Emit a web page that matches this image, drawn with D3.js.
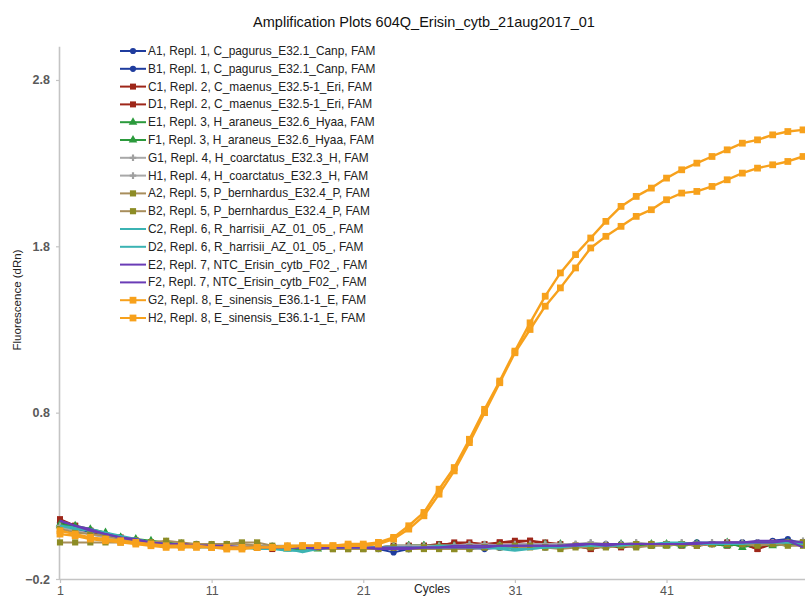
<!DOCTYPE html>
<html>
<head>
<meta charset="utf-8">
<script src="https://cdn.jsdelivr.net/npm/d3@7"></script>
<style>
  html, body { margin: 0; padding: 0; background: #fff; }
  svg { display: block; font-family: "Liberation Sans", Arial, sans-serif; }
</style>
</head>
<body>
<svg id="chart" width="805" height="598"></svg>
<script>
// Amplification curves, one array per well (fluorescence dRn per cycle)
const cycles = [1,2,3,4,5,6,7,8,9,10,11,12,13,14,15,16,17,18,19,20,21,22,23,24,25,26,27,28,29,30,31,32,33,34,35,36,37,38,39,40,41,42,43,44,45,46,47,48,49,50];
const xTicks = [1, 11, 21, 31, 41];
const yTicks = [-0.2, 0.8, 1.8, 2.8];

const wellA1 = [0.14,0.11,0.08,0.06,0.04,0.03,0.02,0.01,0.00,0.00, 0.00,-0.01,-0.01,-0.01,-0.01,-0.01,-0.01,-0.01,-0.01,-0.01, -0.01,-0.01,-0.01,-0.02,-0.01,-0.01,-0.01,-0.01,-0.02,-0.01, 0.00,0.00,0.00,0.00,0.00,0.01,0.00,0.01,0.01,0.01, 0.01,0.01,0.01,0.01,0.02,0.02,0.02,0.02,0.03,0.02];
const wellB1 = [0.13,0.10,0.08,0.06,0.04,0.03,0.02,0.01,0.01,0.00, 0.00,0.00,-0.01,-0.01,-0.01,-0.01,0.00,-0.01,-0.01,-0.01, -0.01,-0.02,-0.04,-0.02,-0.01,-0.01,-0.01,-0.02,-0.01,-0.01, 0.00,0.00,-0.01,0.00,0.00,0.00,0.01,0.01,0.00,0.01, 0.01,0.01,0.02,0.01,0.02,0.02,0.02,0.03,0.04,0.01];
const wellC1 = [0.16,0.12,0.09,0.06,0.04,0.03,0.02,0.01,0.00,0.00, -0.01,-0.01,-0.01,-0.01,-0.01,-0.01,-0.01,-0.01,-0.01,-0.01, -0.01,-0.01,-0.01,0.00,0.00,0.00,0.02,0.02,0.01,0.02, 0.02,0.03,0.02,0.01,0.00,-0.02,0.00,-0.01,0.00,0.00, 0.01,0.01,0.00,0.01,0.02,0.01,-0.02,0.02,0.01,0.02];
const wellD1 = [0.15,0.12,0.09,0.06,0.05,0.03,0.02,0.01,0.01,0.00, 0.00,-0.01,-0.01,-0.01,-0.02,-0.01,-0.01,-0.01,-0.02,-0.02, -0.02,-0.01,0.00,0.00,0.00,0.01,0.01,0.01,0.00,0.02, 0.03,0.03,0.01,0.00,0.00,-0.02,0.00,0.00,0.00,0.01, 0.01,0.00,0.01,0.01,0.00,0.01,-0.02,0.01,0.02,0.01];
const wellE1 = [0.13,0.12,0.10,0.08,0.05,0.03,0.02,0.01,0.00,0.00, 0.00,0.00,0.00,-0.01,-0.01,-0.01,-0.01,-0.02,-0.01,-0.01, -0.01,-0.01,-0.01,0.00,0.00,-0.01,-0.01,0.00,0.00,0.00, -0.01,0.00,0.00,0.00,0.00,0.01,0.00,0.00,0.00,0.01, 0.00,0.01,0.01,0.01,0.00,0.01,0.01,0.00,0.01,0.01];
const wellF1 = [0.12,0.11,0.09,0.07,0.05,0.04,0.03,0.02,0.01,0.00, 0.00,-0.01,-0.01,-0.01,-0.01,-0.02,-0.02,-0.01,-0.01,-0.01, -0.01,-0.01,0.00,0.00,0.00,0.00,0.00,-0.01,0.00,0.00, 0.00,0.00,0.01,0.01,0.00,0.00,0.00,0.01,0.01,0.00, 0.01,0.00,0.01,0.01,0.02,-0.01,0.01,0.01,0.02,0.02];
const wellG1 = [0.11,0.09,0.07,0.05,0.04,0.03,0.02,0.01,0.01,0.01, 0.00,0.00,0.00,0.00,0.00,0.00,0.00,-0.01,-0.01,-0.01, -0.01,-0.01,0.00,0.00,-0.01,0.00,0.00,0.00,0.01,0.00, 0.01,0.01,0.01,0.01,0.01,0.02,0.01,0.01,0.01,0.01, 0.01,0.01,0.01,0.02,0.02,0.02,0.01,0.02,0.02,0.02];
const wellH1 = [0.12,0.09,0.07,0.05,0.04,0.02,0.02,0.01,0.01,0.00, 0.00,0.01,0.00,0.00,-0.01,-0.01,0.00,0.00,-0.01,-0.01, 0.00,-0.01,-0.01,0.00,0.00,0.00,0.00,0.01,0.00,0.00, 0.00,0.01,0.01,0.00,0.01,0.01,0.01,0.01,0.02,0.01, 0.01,0.02,0.01,0.01,0.02,0.01,0.02,0.02,0.02,0.03];
const wellA2 = [0.02,0.02,0.02,0.02,0.02,0.02,0.02,0.03,0.02,0.01, 0.01,0.01,0.02,0.02,0.00,-0.01,-0.01,-0.01,-0.02,-0.02, -0.02,-0.02,-0.01,-0.02,-0.02,-0.02,-0.02,-0.02,-0.01,0.00, -0.01,-0.01,-0.01,-0.02,-0.01,-0.01,-0.01,0.00,-0.01,0.00, 0.00,0.01,0.00,0.01,0.01,0.01,0.00,0.01,0.00,0.00];
const wellB2 = [0.10,0.08,0.07,0.06,0.04,0.03,0.02,0.01,0.00,0.00, 0.00,0.01,0.01,0.00,-0.01,-0.01,-0.01,-0.01,-0.02,-0.02, -0.02,-0.01,-0.01,-0.02,-0.01,-0.01,-0.02,-0.01,-0.01,-0.01, 0.00,0.00,-0.01,-0.01,0.00,0.00,0.00,0.00,0.01,0.01, 0.01,0.01,0.01,0.01,0.01,0.01,0.01,0.01,0.02,0.02];
const wellC2 = [0.12,0.11,0.10,0.08,0.06,0.04,0.02,0.01,0.00,-0.01, -0.01,-0.01,-0.01,-0.01,-0.02,-0.02,-0.04,-0.02,-0.01,-0.01, -0.01,-0.01,-0.01,-0.01,-0.01,-0.01,-0.01,-0.01,-0.01,-0.02, -0.03,-0.02,-0.01,-0.01,0.00,0.00,0.00,0.00,0.01,0.01, 0.02,0.02,0.01,0.01,0.01,0.02,0.02,0.02,0.02,0.02];
const wellD2 = [0.12,0.10,0.09,0.07,0.05,0.04,0.02,0.01,0.00,0.00, -0.01,-0.01,-0.01,-0.02,-0.02,-0.03,-0.03,-0.02,-0.01,-0.01, -0.01,-0.01,-0.01,-0.01,-0.01,0.00,0.00,-0.01,-0.01,-0.01, -0.02,-0.02,-0.01,0.00,0.00,0.00,0.00,0.01,0.01,0.01, 0.01,0.01,0.02,0.02,0.01,0.01,0.02,0.02,0.02,0.01];
const wellE2 = [0.15,0.12,0.09,0.07,0.05,0.03,0.02,0.01,0.01,0.00, 0.00,0.00,-0.01,-0.01,-0.01,-0.01,-0.01,-0.01,-0.01,-0.01, -0.01,-0.01,-0.01,-0.01,-0.01,-0.01,0.00,0.00,0.00,0.00, 0.00,0.00,0.00,0.00,0.01,0.01,0.00,0.01,0.01,0.01, 0.01,0.01,0.01,0.02,0.02,0.02,0.02,0.02,0.03,0.02];
const wellF2 = [0.15,0.12,0.10,0.07,0.05,0.04,0.02,0.01,0.01,0.00, 0.00,-0.01,-0.01,-0.01,-0.01,-0.01,-0.01,-0.02,-0.01,-0.01, -0.01,-0.02,-0.02,-0.02,-0.01,-0.01,-0.01,-0.01,-0.01,0.00, 0.00,0.00,0.00,0.00,0.00,0.01,0.01,0.01,0.01,0.01, 0.01,0.01,0.02,0.02,0.02,0.02,0.03,0.03,0.03,-0.01];
const wellG2 = [0.09,0.07,0.05,0.04,0.03,0.02,0.01,0.00,0.00,0.00, -0.01,-0.01,-0.01,-0.01,-0.01,0.00,0.00,0.00,0.00,0.01, 0.01,0.02,0.05,0.12,0.20,0.34,0.47,0.64,0.82,0.99, 1.17,1.34,1.50,1.64,1.75,1.85,1.95,2.04,2.10,2.15, 2.21,2.26,2.30,2.34,2.38,2.42,2.44,2.47,2.49,2.50];
const wellH2 = [0.07,0.06,0.04,0.03,0.02,0.01,0.00,-0.01,-0.01,-0.01, -0.01,-0.02,-0.02,-0.01,-0.01,-0.01,0.00,0.00,0.00,0.00, 0.00,0.01,0.04,0.10,0.18,0.31,0.45,0.62,0.80,0.98, 1.16,1.30,1.44,1.55,1.67,1.79,1.86,1.92,1.98,2.02, 2.08,2.12,2.13,2.16,2.20,2.24,2.27,2.29,2.31,2.34];

const seriesNames = [
  "A1, Repl. 1, C_pagurus_E32.1_Canp, FAM",
  "B1, Repl. 1, C_pagurus_E32.1_Canp, FAM",
  "C1, Repl. 2, C_maenus_E32.5-1_Eri, FAM",
  "D1, Repl. 2, C_maenus_E32.5-1_Eri, FAM",
  "E1, Repl. 3, H_araneus_E32.6_Hyaa, FAM",
  "F1, Repl. 3, H_araneus_E32.6_Hyaa, FAM",
  "G1, Repl. 4, H_coarctatus_E32.3_H, FAM",
  "H1, Repl. 4, H_coarctatus_E32.3_H, FAM",
  "A2, Repl. 5, P_bernhardus_E32.4_P, FAM",
  "B2, Repl. 5, P_bernhardus_E32.4_P, FAM",
  "C2, Repl. 6, R_harrisii_AZ_01_05_, FAM",
  "D2, Repl. 6, R_harrisii_AZ_01_05_, FAM",
  "E2, Repl. 7, NTC_Erisin_cytb_F02_, FAM",
  "F2, Repl. 7, NTC_Erisin_cytb_F02_, FAM",
  "G2, Repl. 8, E_sinensis_E36.1-1_E, FAM",
  "H2, Repl. 8, E_sinensis_E36.1-1_E, FAM"
];
const seriesValues = [wellA1, wellB1, wellC1, wellD1, wellE1, wellF1, wellG1, wellH1,
                      wellA2, wellB2, wellC2, wellD2, wellE2, wellF2, wellG2, wellH2];

// Styling per replicate pair
const lineColors   = ["#1f3c9e","#1f3c9e","#9e2619","#9e2619","#2b9a3c","#2b9a3c","#a8a8a8","#a8a8a8",
                      "#a88e5c","#a88e5c","#3bb3b3","#3bb3b3","#6a3cb6","#6a3cb6","#f7a11c","#f7a11c"];
const markerColors = ["#1f3c9e","#1f3c9e","#9e2619","#9e2619","#2b9a3c","#2b9a3c","#a0a0a0","#a0a0a0",
                      "#8d8c25","#8d8c25",null,null,null,null,"#f7a11c","#f7a11c"];
const markerShapes = [d3.symbolCircle,d3.symbolCircle,d3.symbolSquare,d3.symbolSquare,
                      d3.symbolTriangle,d3.symbolTriangle,d3.symbolCross,d3.symbolCross,
                      d3.symbolSquare,d3.symbolSquare,null,null,null,null,d3.symbolSquare,d3.symbolSquare];
const markerSizes  = [30,30,36,36,32,32,24,24,38,38,0,0,0,0,46,46];

const svg = d3.select("#chart");
const W = 805, H = 598;
const plot = { left: 60, right: 803, top: 46.7, bottom: 579 };

const x = d3.scaleLinear().domain([1, 50]).range([plot.left, plot.right]);
const y = d3.scaleLinear().domain([-0.2, 3.0]).range([plot.bottom, plot.top]);

// Title
svg.append("text")
  .attr("x", 424).attr("y", 27)
  .attr("text-anchor", "middle")
  .attr("font-size", 14.5)
  .attr("fill", "#111")
  .text("Amplification Plots 604Q_Erisin_cytb_21aug2017_01");

// Axes
const xAxis = d3.axisBottom(x).tickValues(xTicks).tickSize(4).tickPadding(3).tickFormat(d3.format("d"));
const yAxis = d3.axisLeft(y).tickValues(yTicks).tickSize(4).tickPadding(6).tickFormat(d3.format(".1f"));

const gx = svg.append("g").attr("transform", `translate(0,${plot.bottom})`).call(xAxis);
gx.select(".domain").attr("d", `M${plot.left},0.5H${W}`);
const gy = svg.append("g").attr("transform", `translate(${plot.left},0)`).call(yAxis);
gy.select(".domain").attr("d", `M-0.5,${plot.top}V${plot.bottom}`);

[gx, gy].forEach(g => {
  g.select(".domain").attr("stroke", "#c4c4c4").attr("stroke-width", 1.6);
  g.selectAll(".tick line").attr("stroke", "#c4c4c4").attr("stroke-width", 1.2);
  g.selectAll(".tick text").attr("fill", "#555").attr("font-size", 12.5)
    .attr("font-family", "'Liberation Sans', Arial, sans-serif");
});
gy.selectAll(".tick text").attr("font-weight", "bold").attr("fill", "#5a5a5a");

// Axis titles
svg.append("text")
  .attr("x", 432).attr("y", 593)
  .attr("text-anchor", "middle")
  .attr("font-size", 12)
  .attr("fill", "#222")
  .text("Cycles");

svg.append("text")
  .attr("transform", "translate(21,300) rotate(-90)")
  .attr("text-anchor", "middle")
  .attr("font-size", 11.5)
  .attr("fill", "#222")
  .text("Fluorescence (dRn)");

// Curves
const line = d3.line()
  .x((d, i) => x(cycles[i]))
  .y(d => y(d));

const curves = svg.append("g");
seriesValues.forEach((vals, s) => {
  const g = curves.append("g");
  g.append("path")
    .attr("d", line(vals))
    .attr("fill", "none")
    .attr("stroke", lineColors[s])
    .attr("stroke-width", s >= 14 ? 2.4 : 2)
    .attr("stroke-linejoin", "round");
  if (markerShapes[s]) {
    const sym = d3.symbol().type(markerShapes[s]).size(markerSizes[s]);
    g.selectAll("path.m")
      .data(vals)
      .join("path")
      .attr("class", "m")
      .attr("transform", (d, i) => `translate(${x(cycles[i])},${y(d)})`)
      .attr("d", sym())
      .attr("fill", markerColors[s]);
  }
});

// Legend
const legend = svg.append("g");
const legX = 120, legY0 = 51, legStep = 17.8;
seriesNames.forEach((name, s) => {
  const row = legend.append("g").attr("transform", `translate(${legX},${legY0 + s * legStep})`);
  row.append("line")
    .attr("x1", 0).attr("x2", 26).attr("y1", 0).attr("y2", 0)
    .attr("stroke", lineColors[s]).attr("stroke-width", 2);
  if (markerShapes[s]) {
    row.append("path")
      .attr("transform", "translate(13,0)")
      .attr("d", d3.symbol().type(markerShapes[s]).size(markerSizes[s])())
      .attr("fill", markerColors[s]);
  }
  row.append("text")
    .attr("x", 28).attr("y", 4)
    .attr("font-size", 11.9)
    .attr("fill", "#222")
    .text(name);
});
</script>
</body>
</html>
